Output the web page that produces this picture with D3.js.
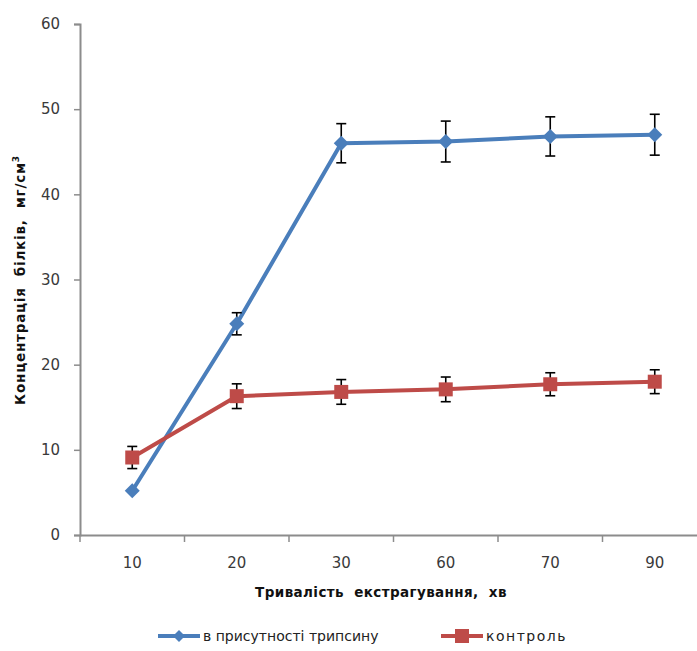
<!DOCTYPE html>
<html><head><meta charset="utf-8">
<script src="https://cdn.jsdelivr.net/npm/d3@7"></script>
<style>body{margin:0;background:#fff}svg{display:block}</style>
</head><body>
<svg id="c" width="697" height="651"></svg>
<script>
const categories = ["10","20","30","60","70","90"];
const trypsin = [5.2, 24.8, 46.0, 46.2, 46.8, 47.0];
const trypsinErr = [0, 1.3, 2.3, 2.4, 2.3, 2.4];
const control = [9.1, 16.3, 16.8, 17.1, 17.7, 18.0];
const controlErr = [1.3, 1.45, 1.45, 1.45, 1.35, 1.4];
const yTicks = [0,10,20,30,40,50,60];
const seriesNames = ["в присутності трипсину","контроль"];

const svg = d3.select("#c");
const mLeft = 80, mTop = 24, mBottom = 535, bandW = 104.5;
const x = d3.scaleBand().domain(categories).range([mLeft, mLeft + bandW*categories.length]);
const y = d3.scaleLinear().domain([0,60]).range([mBottom, mTop]);
const font = "'DejaVu Sans', Verdana, sans-serif";
const axisCol = "#8c8c8c";

// Y axis
const ya = svg.append("g").attr("transform",`translate(${mLeft},0)`)
  .call(d3.axisLeft(y).tickValues(yTicks).tickSize(6).tickPadding(14));
ya.select(".domain").attr("stroke",axisCol).attr("stroke-width",2);
ya.selectAll(".tick line").attr("stroke",axisCol).attr("stroke-width",1.5);
ya.selectAll(".tick text").attr("font-family",font).attr("font-size",15).attr("fill","#3a3a3a");

// X axis
const xa = svg.append("g").attr("transform",`translate(0,${mBottom})`)
  .call(d3.axisBottom(x).tickSize(0).tickPadding(22));
xa.select(".domain").attr("stroke",axisCol).attr("stroke-width",2);
xa.selectAll(".tick text").attr("font-family",font).attr("font-size",15).attr("fill","#3a3a3a");
// boundary ticks
svg.append("g").selectAll("line").data(d3.range(categories.length+1)).join("line")
  .attr("x1",i=>mLeft+i*bandW).attr("x2",i=>mLeft+i*bandW)
  .attr("y1",mBottom).attr("y2",mBottom+7)
  .attr("stroke",axisCol).attr("stroke-width",1.5);

// titles
svg.append("text").attr("x",381).attr("y",597).attr("text-anchor","middle")
  .attr("font-family",font).attr("font-size",13.5).attr("font-weight","bold").attr("fill","#111")
  .attr("letter-spacing",0.4)
  .attr("xml:space","preserve").text("Тривалість  екстрагування,  хв");
const yt = svg.append("text").attr("transform","translate(25,280) rotate(-90)").attr("text-anchor","middle")
  .attr("font-family",font).attr("font-size",13.5).attr("font-weight","bold").attr("fill","#111")
  .attr("letter-spacing",0.8)
  .attr("xml:space","preserve");
yt.append("tspan").text("Концентрація  білків,  мг/см");
yt.append("tspan").attr("dy",-6).attr("font-size",9).text("3");

const cx = d => x(d) + x.bandwidth()/2;
const blue = "#4a7ebb", red = "#be4b48";

function drawSeries(vals, errs, color, marker){
  const data = categories.map((c,i)=>({c, v:vals[i], e:errs[i]}));
  svg.append("path").datum(data)
    .attr("d", d3.line().x(d=>cx(d.c)).y(d=>y(d.v)))
    .attr("fill","none").attr("stroke",color).attr("stroke-width",4).attr("stroke-linejoin","round");
  const g = svg.append("g");
  const eb = data.filter(d=>d.e>0);
  g.selectAll(".ev").data(eb).join("line")
    .attr("x1",d=>cx(d.c)).attr("x2",d=>cx(d.c))
    .attr("y1",d=>y(d.v+d.e)).attr("y2",d=>y(d.v-d.e))
    .attr("stroke","#000").attr("stroke-width",1.6);
  [1,-1].forEach(s=>{
    g.append("g").selectAll("line").data(eb).join("line")
      .attr("x1",d=>cx(d.c)-5).attr("x2",d=>cx(d.c)+5)
      .attr("y1",d=>y(d.v+s*d.e)).attr("y2",d=>y(d.v+s*d.e))
      .attr("stroke","#000").attr("stroke-width",1.6);
  });
  svg.append("g").selectAll("path").data(data).join("path")
    .attr("transform",d=>`translate(${cx(d.c)},${y(d.v)})`)
    .attr("d", marker==="diamond" ? "M0,-7.5L7.5,0L0,7.5L-7.5,0Z" : "M-7,-7H7V7H-7Z")
    .attr("fill",color);
}
drawSeries(trypsin, trypsinErr, blue, "diamond");
drawSeries(control, controlErr, red, "square");

// legend
const lg = svg.append("g");
const legendItems = [{x:158, name:seriesNames[0], color:blue, m:"diamond", ls:0},{x:441, name:seriesNames[1], color:red, m:"square", ls:1.5}];
legendItems.forEach(it=>{
  lg.append("line").attr("x1",it.x).attr("x2",it.x+42).attr("y1",636).attr("y2",636)
    .attr("stroke",it.color).attr("stroke-width",4);
  lg.append("path").attr("transform",`translate(${it.x+21},636)`)
    .attr("d", it.m==="diamond" ? "M0,-6L6,0L0,6L-6,0Z" : "M-7,-7H7V7H-7Z").attr("fill",it.color);
  lg.append("text").attr("x",it.x+45).attr("y",641).attr("font-family",font).attr("font-size",14)
    .attr("letter-spacing",it.ls)
    .attr("fill","#222").text(it.name);
});
</script>
</body></html>
